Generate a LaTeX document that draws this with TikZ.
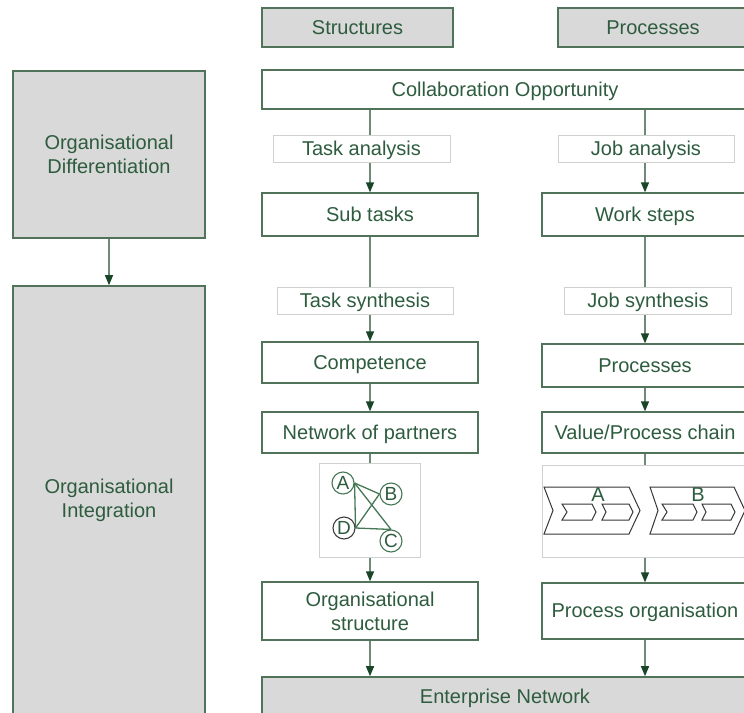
\documentclass[tikz,border=0pt]{standalone}
\usepackage{fontspec}
\setmainfont{Liberation Sans}
\usetikzlibrary{arrows.meta,backgrounds}
\definecolor{txt}{RGB}{46,92,62}
\definecolor{bord}{RGB}{80,115,90}
\definecolor{grayfill}{RGB}{217,217,217}
\definecolor{lbl}{RGB}{208,208,208}
\definecolor{conn}{RGB}{110,138,118}
\definecolor{tipc}{RGB}{25,70,40}
\definecolor{netc}{RGB}{70,120,85}
\definecolor{chevc}{RGB}{55,55,55}
\begin{document}
\begin{tikzpicture}[x=1pt,y=-1pt,
  every node/.style={font=\fontsize{20}{24}\selectfont, text=txt, inner sep=0pt, align=center},
  one/.style={text height=14.5pt, text depth=1.5pt},
  graybox/.style={draw=bord, line width=1.6pt, fill=grayfill},
  whitebox/.style={draw=bord, line width=1.3pt, fill=white},
  lblbox/.style={draw=lbl, line width=1pt, fill=white, one},
  imgbox/.style={draw=lbl, line width=1pt, fill=white},
  conline/.style={draw=conn, line width=1.3pt},
  arr/.style={conline, -{Triangle[width=8pt,length=10pt,color=tipc]}},
  netnode/.style={circle, draw=netc, line width=1.1pt, minimum size=22pt, font=\fontsize{19}{19}\selectfont, text=txt},
  netline/.style={draw=netc, line width=1.3pt},
  chevline/.style={draw=chevc, line width=1pt, line join=miter}
]
\useasboundingbox (0,0) rectangle (744,712);

% left column boxes
\node[graybox, minimum width=192pt, minimum height=167pt] (orgdiff) at (109,154.5) {Organisational\\Differentiation};
\node[graybox, minimum width=192pt, minimum height=428pt] (orgint) at (109,500) {Organisational\\Integration};

% headers
\node[graybox, one, minimum width=191pt, minimum height=39pt] (struct) at (357.5,27.5) {Structures};
\node[graybox, one, minimum width=190pt, minimum height=39pt] (proc) at (653,27.5) {Processes};

\node[whitebox, one, minimum width=486pt, minimum height=39pt] (collab) at (505,89.5) {Collaboration Opportunity};

% labels
\node[lblbox, minimum width=177pt, minimum height=27pt] (taskan) at (361.5,148.5) {Task analysis};
\node[lblbox, minimum width=176pt, minimum height=27pt] (joban) at (646,148.5) {Job analysis};

\node[whitebox, one, minimum width=216pt, minimum height=43pt] (subtasks) at (370,214.5) {Sub tasks};
\node[whitebox, one, minimum width=206pt, minimum height=43pt] (worksteps) at (645,214.5) {Work steps};

\node[lblbox, minimum width=176pt, minimum height=27pt] (tasksyn) at (365,300.5) {Task synthesis};
\node[lblbox, minimum width=167pt, minimum height=27pt] (jobsyn) at (648,300.5) {Job synthesis};

\node[whitebox, one, minimum width=216pt, minimum height=41pt] (comp) at (370,362.5) {Competence};
\node[whitebox, one, minimum width=206pt, minimum height=43pt] (procs) at (645,365.5) {Processes};

\node[whitebox, one, minimum width=216pt, minimum height=41pt] (netp) at (370,432.5) {Network of partners};
\node[whitebox, one, minimum width=206pt, minimum height=41pt] (vpc) at (645,432.5) {Value/Process chain};

\node[imgbox, minimum width=101pt, minimum height=94pt] (netimg) at (369.5,510) {};
\node[imgbox, minimum width=206pt, minimum height=92pt] (vcimg) at (645,511) {};

\node[whitebox, minimum width=216pt, minimum height=58pt] (orgstruct) at (370,611) {Organisational\\structure};
\node[whitebox, one, minimum width=206pt, minimum height=56pt] (procorg) at (645,611) {Process organisation};

\node[graybox, one, minimum width=486pt, minimum height=40pt] (ent) at (505,697) {Enterprise Network};

% network of partners picture
\node[netnode] (A) at (343,483) {A};
\node[netnode] (B) at (391,494) {B};
\node[netnode] (C) at (391,541) {C};
\node[netnode, draw=black!75] (D) at (344,528) {D};
\draw[netline] (A.east) -- (D.east);
\draw[netline] (A.east) -- (B.west);
\draw[netline] (A.east) -- (C.north);
\draw[netline] (D.east) -- (B.west);
\draw[netline] (D.east) -- (C.north);

% value chain picture
\draw[chevline] (544,487) -- (629,487) -- (640,510.5) -- (629,534) -- (544,534) -- (553,510.5) -- cycle;
\draw[chevline] (650,487) -- (734,487) -- (745,510.5) -- (734,534) -- (650,534) -- (658,510.5) -- cycle;
\draw[chevline] (562,504) -- (592,504) -- (596,512) -- (592,520) -- (562,520) -- (567,512) -- cycle;
\draw[chevline] (602,504) -- (629,504) -- (633,512) -- (629,520) -- (602,520) -- (606,512) -- cycle;
\draw[chevline] (662,504) -- (693,504) -- (697,512) -- (693,520) -- (662,520) -- (667,512) -- cycle;
\draw[chevline] (702,504) -- (731,504) -- (735,512) -- (731,520) -- (702,520) -- (706,512) -- cycle;
\node (la) at (598,495) {A};
\node (lb) at (698,495) {B};

% connectors
\begin{scope}[on background layer]
\fill[white] (0,0) rectangle (744,712);
\draw[arr] (orgdiff.south) -- (orgint.north);
\draw[arr] (collab.south -| subtasks.north) -- (subtasks.north);
\draw[arr] (subtasks.south) -- (comp.north);
\draw[arr] (comp.south) -- (netp.north);
\draw[conline] (netp.south) -- (netimg.north -| netp.south);
\draw[arr] (netimg.south -| orgstruct.north) -- (orgstruct.north);
\draw[arr] (orgstruct.south) -- (orgstruct.south |- ent.north);
\draw[arr] (collab.south -| worksteps.north) -- (worksteps.north);
\draw[arr] (worksteps.south) -- (procs.north);
\draw[arr] (procs.south) -- (vpc.north);
\draw[conline] (vpc.south) -- (vcimg.north);
\draw[arr] (vcimg.south) -- (procorg.north);
\draw[arr] (procorg.south) -- (procorg.south |- ent.north);
\end{scope}
\end{tikzpicture}
\end{document}
